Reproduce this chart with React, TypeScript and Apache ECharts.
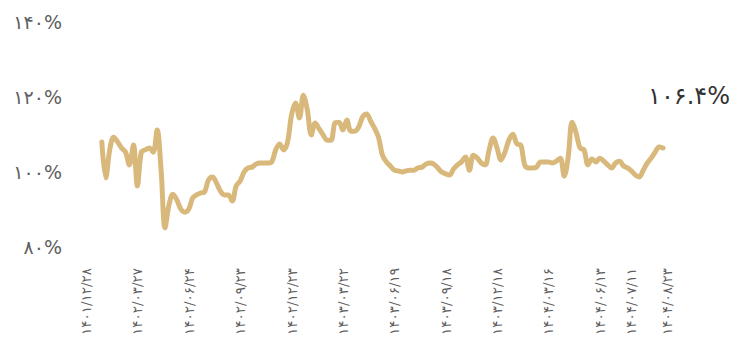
import React, { useEffect, useRef } from "react";
import * as echarts from "echarts";

// Weekly index values (%)
const values: number[] = [
  108.0, 98.4, 105.9, 109.3, 108.0, 106.4, 105.3, 101.9, 107.2, 96.3,
  105.3, 105.9, 106.4, 105.3, 111.2, 100.5, 85.1, 91.2, 94.1, 92.5,
  90.1, 89.3, 90.1, 93.1, 93.9, 94.4, 94.7, 97.9, 98.7, 97.1,
  94.9, 93.9, 93.9, 92.3, 96.3, 97.6, 100.0, 101.1, 101.3, 102.1,
  102.4, 102.4, 102.4, 102.7, 105.9, 107.5, 105.9, 108.0, 115.2, 118.4,
  114.4, 120.5, 116.5, 109.9, 113.1, 111.5, 109.9, 108.5, 108.5, 113.1,
  113.3, 111.2, 113.9, 110.9, 110.9, 112.0, 114.7, 115.5, 113.6, 111.7,
  109.3, 104.5, 102.7, 101.6, 100.5, 100.3, 100.0, 100.3, 100.5, 100.5,
  101.1, 101.3, 102.1, 102.4, 102.1, 101.1, 100.0, 99.5, 99.2, 100.8,
  101.9, 102.7, 104.0, 100.5, 104.5, 103.7, 102.4, 101.9, 105.9, 109.1,
  106.4, 103.2, 105.3, 108.5, 110.1, 107.5, 107.2, 101.9, 101.1, 101.1,
  101.3, 102.7, 102.7, 102.7, 102.4, 102.9, 103.7, 98.9, 104.0, 113.3,
  110.4, 106.4, 105.9, 101.9, 103.5, 102.7, 103.7, 102.9, 101.9, 101.1,
  102.4, 102.9, 101.6, 101.1, 100.3, 99.2, 98.7, 100.5, 102.4, 103.7,
  105.3, 106.7, 106.4,
];

// slots (weeks) on the x axis before the first value and in total
const leadingSlots = 4;
const totalSlots = 148;

// date tick labels and the week slot each belongs to
const tickLabels: string[] = [
  "۱۴۰۱/۱۲/۲۸",
  "۱۴۰۲/۰۳/۲۷",
  "۱۴۰۲/۰۶/۲۴",
  "۱۴۰۲/۰۹/۲۳",
  "۱۴۰۲/۱۲/۲۳",
  "۱۴۰۳/۰۳/۲۲",
  "۱۴۰۳/۰۶/۱۹",
  "۱۴۰۳/۰۹/۱۸",
  "۱۴۰۳/۱۲/۱۸",
  "۱۴۰۴/۰۳/۱۶",
  "۱۴۰۴/۰۶/۱۳",
  "۱۴۰۴/۰۷/۱۱",
  "۱۴۰۴/۰۸/۲۳",
];
const tickSlots: number[] = [0, 13, 26, 39, 52, 65, 78, 91, 104, 117, 130, 138, 147];

const yTicks = { min: 80, max: 140, interval: 20 };

const FONT = "'DejaVu Sans', sans-serif";
const LINE_COLOR = "#d9b87c";

const toFa = (s: string) => s.replace(/[0-9]/g, (d) => "۰۱۲۳۴۵۶۷۸۹"[Number(d)]);

export default function App() {
  const ref = useRef<HTMLDivElement>(null);

  useEffect(() => {
    document.body.style.margin = "0";
    if (!ref.current) return;
    const chart = echarts.init(ref.current, undefined, { renderer: "svg" });

    const categories: string[] = [];
    for (let i = 0; i < totalSlots; i++) categories.push(String(i));
    const labelMap: Record<string, string> = {};
    tickSlots.forEach((s, k) => (labelMap[String(s)] = tickLabels[k]));

    const seriesData: (number | null)[] = [];
    for (let i = 0; i < totalSlots; i++) {
      const j = i - leadingSlots;
      seriesData.push(j >= 0 && j < values.length ? values[j] : null);
    }
    const last = values[values.length - 1];

    chart.setOption({
      animation: false,
      grid: { left: 86, right: 65, top: 22, bottom: 108, containLabel: false },
      xAxis: {
        type: "category",
        data: categories,
        boundaryGap: false,
        axisLine: { show: false },
        axisTick: { show: false },
        splitLine: { show: false },
        axisLabel: {
          rotate: 90,
          margin: 21,
          interval: (index: number) => labelMap[String(index)] !== undefined,
          formatter: (v: string) => labelMap[v] ?? "",
          color: "#5e5e5e",
          fontSize: 13.5,
          fontFamily: FONT,
        },
      },
      yAxis: {
        type: "value",
        min: yTicks.min,
        max: yTicks.max,
        interval: yTicks.interval,
        axisLine: { show: false },
        axisTick: { show: false },
        splitLine: { show: false },
        axisLabel: {
          margin: 24,
          color: "#5e5e5e",
          fontSize: 19,
          fontFamily: FONT,
          formatter: (v: number) => toFa(String(v)) + "%",
        },
      },
      series: [
        {
          type: "line",
          data: seriesData,
          smooth: 0.35,
          showSymbol: false,
          lineStyle: { color: LINE_COLOR, width: 5, cap: "round", join: "round" },
          itemStyle: { color: LINE_COLOR },
        },
      ],
      graphic: [
        {
          type: "text",
          right: 2,
          top: 84,
          style: {
            text: toFa(last.toFixed(1)) + "%",
            fill: "#333333",
            font: `24px ${FONT}`,
          },
        },
      ],
    });

    return () => chart.dispose();
  }, []);

  return <div ref={ref} style={{ width: 732, height: 355 }} />;
}
